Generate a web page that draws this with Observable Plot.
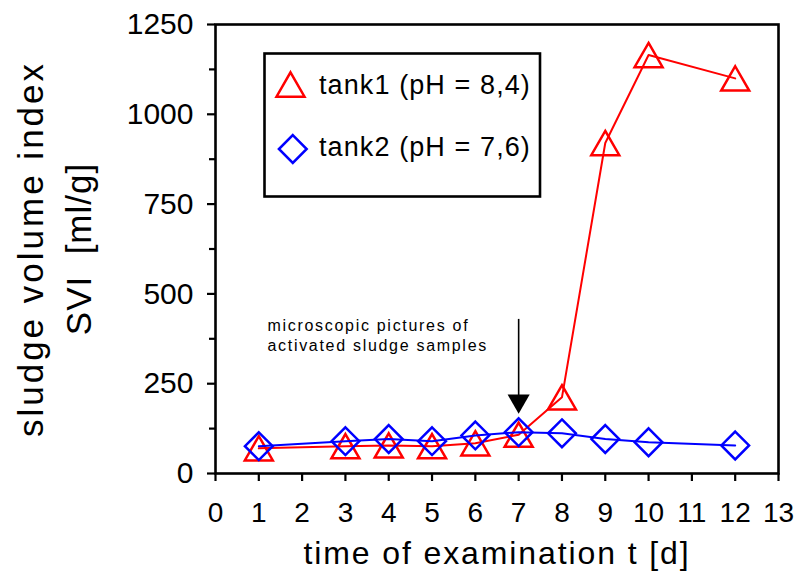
<!DOCTYPE html>
<html>
<head>
<meta charset="utf-8">
<script src="https://cdn.jsdelivr.net/npm/d3@7"></script>
<script src="https://cdn.jsdelivr.net/npm/@observablehq/plot@0.6"></script>
<style>
  html, body { margin: 0; padding: 0; background: white; }
  #chart svg { display: block; }
</style>
</head>
<body>
<div id="chart"></div>
<script>
// ---- data ----
const days = [1, 3, 4, 5, 6, 7, 8, 9, 10, 12];
const tank1 = [70, 76, 78, 76, 84, 108, 212, 920, 1165, 1100];
const tank2 = [76, 90, 96, 90, 106, 115, 112, 96, 87, 78];
const seriesNames = ["tank1 (pH = 8,4)", "tank2 (pH = 7,6)"];
const xTicks = [0, 1, 2, 3, 4, 5, 6, 7, 8, 9, 10, 11, 12, 13];
const yTicks = [0, 250, 500, 750, 1000, 1250];
const yMinor = [125, 375, 625, 875, 1125];
const xLabel = "time of examination t [d]";
const yLabel = ["sludge volume index", "SVI  [ml/g]"];
const noteLines = ["microscopic pictures of", "activated sludge samples"];
const noteX = [1.2, 1.2];
const noteY = [412, 354];
const arrowDay = [7];
const arrowFrom = [429];
const arrowTo = [202];

const d1 = days.map((d, i) => ({day: d, svi: tank1[i]}));
const d2 = days.map((d, i) => ({day: d, svi: tank2[i]}));
const notes = noteLines.map((t, i) => ({t, x: noteX[i], y: noteY[i]}));
const font = "'Liberation Sans', Arial, sans-serif";

// triangle centred on its bounding box (same proportions as d3.symbolTriangle)
const triBox = {
  draw(ctx, size) {
    const y = Math.sqrt(size / (3 * Math.sqrt(3)));
    const hw = Math.sqrt(3) * y;
    ctx.moveTo(0, -1.5 * y);
    ctx.lineTo(hw, 1.5 * y);
    ctx.lineTo(-hw, 1.5 * y);
    ctx.closePath();
  }
};
const rTri = 10.4, rDia = 12.5;

const chart = Plot.plot({
  width: 800,
  height: 574,
  marginLeft: 215,
  marginRight: 22,
  marginTop: 24,
  marginBottom: 101,
  x: {domain: [0, 13]},
  y: {domain: [0, 1250]},
  style: {fontFamily: font, color: "black", background: "white", overflow: "visible"},
  marks: [
    Plot.axisY({ticks: yTicks, tickSize: 8, tickPadding: 14, fontSize: 30, strokeWidth: 2.2, tickFormat: "d", label: null}),
    Plot.axisY({ticks: yMinor, tickSize: 6, text: null, strokeWidth: 2.2, label: null}),
    Plot.axisX({ticks: xTicks, tickSize: 8, tickPadding: 21, fontSize: 28, strokeWidth: 2.2, tickFormat: "d", label: null}),
    Plot.frame({stroke: "black", strokeWidth: 2.6}),
    Plot.text([xLabel], {frameAnchor: "bottom", dy: 80, lineAnchor: "middle", fontSize: 32, text: d => d, className: "xlab"}),
    Plot.text([yLabel[0]], {frameAnchor: "left", dx: -184, rotate: -90, textAnchor: "middle", fontSize: 35, text: d => d, className: "ylab1"}),
    Plot.text([yLabel[1]], {frameAnchor: "left", dx: -136, rotate: -90, textAnchor: "middle", fontSize: 35, text: d => d, className: "ylab2"}),
    // annotation
    Plot.text(notes, {x: "x", y: "y", text: "t", textAnchor: "start", fontSize: 16, className: "note"}),
    Plot.ruleX(arrowDay, {x: d => d, y1: arrowFrom[0], y2: arrowTo[0], stroke: "black", strokeWidth: 1.6}),
    Plot.dot(arrowDay, {x: d => d, y: arrowTo[0], symbol: "triangle", rotate: 180, r: 8.2, fill: "black", stroke: "none"}),
    // series
    Plot.line(d1, {x: "day", y: "svi", stroke: "#ff0000", strokeWidth: 2}),
    Plot.dot(d1, {x: "day", y: "svi", symbol: triBox, r: rTri, stroke: "#ff0000", strokeWidth: 2.5, fill: "none"}),
    Plot.line(d2, {x: "day", y: "svi", stroke: "#0000ff", strokeWidth: 2}),
    Plot.dot(d2, {x: "day", y: "svi", symbol: "diamond2", r: rDia, stroke: "#0000ff", strokeWidth: 2.5, fill: "none"})
  ]
});

document.getElementById("chart").appendChild(chart);
const svg = d3.select(chart);
svg.selectAll(".xlab text").attr("letter-spacing", "1.9px");
svg.selectAll(".ylab1 text").attr("letter-spacing", "3px");
svg.selectAll(".ylab2 text").attr("letter-spacing", "1px");
svg.selectAll(".note text").attr("letter-spacing", "1.7px");

// legend
const lg = svg.append("g").attr("font-family", font);
lg.append("rect").attr("x", 264.5).attr("y", 53.5).attr("width", 275.5).attr("height", 143)
  .attr("fill", "white").attr("stroke", "black").attr("stroke-width", 2.6);
const items = [
  {name: seriesNames[0], color: "#ff0000", sym: triBox, size: Math.PI * rTri * rTri, cx: 290.5, cy: 84.5, ty: 84.5},
  {name: seriesNames[1], color: "#0000ff", sym: d3.symbolDiamond2, size: Math.PI * rDia * rDia, cx: 292.8, cy: 149, ty: 147}
];
items.forEach(it => {
  lg.append("path").attr("d", d3.symbol(it.sym, it.size)())
    .attr("transform", `translate(${it.cx},${it.cy})`)
    .attr("fill", "none").attr("stroke", it.color).attr("stroke-width", 2.5);
  lg.append("text").attr("x", 319).attr("y", it.ty).attr("dy", "0.35em")
    .attr("text-anchor", "start")
    .attr("font-size", 27).attr("letter-spacing", "1.1px").attr("fill", "black").text(it.name);
});
</script>
</body>
</html>
